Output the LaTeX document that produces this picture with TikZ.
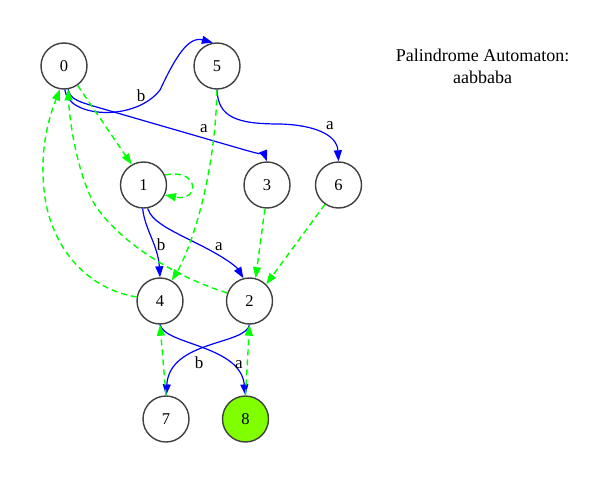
\documentclass[tikz,border=0pt]{standalone}
\usepackage{fontspec}
\setmainfont{Liberation Serif}
\usetikzlibrary{arrows.meta}
\definecolor{gvgreen}{RGB}{0,255,0}
\definecolor{gvblue}{RGB}{0,0,255}
\definecolor{gvgray}{RGB}{64,64,64}
\definecolor{gvchart}{RGB}{127,255,0}
\begin{document}
\begin{tikzpicture}[x=1pt,y=-1pt,
  state/.style={circle,draw=gvgray,line width=1.4pt,minimum size=46pt,inner sep=0pt,fill=white,font=\fontsize{16.5}{18}\selectfont},
  trans/.style={draw=gvblue,line width=1.2pt,-{Triangle[length=11pt,width=8pt]}},
  sufl/.style={draw=gvgreen,line width=1.4pt,dash pattern=on 6pt off 4pt,-{Triangle[length=11pt,width=8pt]}},
  elabel/.style={anchor=base,inner sep=0pt,font=\fontsize{17}{19}\selectfont},
  ttl/.style={anchor=base,inner sep=0pt,font=\fontsize{18}{20}\selectfont}]
\useasboundingbox (0,0) rectangle (607,481);
% nodes
\node[state] (n0) at (64,66) {0};
\node[state] (n5) at (217,66) {5};
\node[state] (n1) at (143.5,185) {1};
\node[state] (n3) at (267,185) {3};
\node[state] (n6) at (338.5,185) {6};
\node[state] (n4) at (160,301) {4};
\node[state] (n2) at (249.5,301) {2};
\node[state] (n7) at (166,419) {7};
\node[state,fill=gvchart] (n8) at (245.5,419) {8};
% title
\node[ttl] (t1) at (482.5,61.7) {Palindrome Automaton:};
\node[ttl] (t2) at (482.5,83.3) {aabbaba};
% transitions
\draw[trans] (n0.-88) .. controls (68,118) and (135,122) .. (160,90)
   .. controls (175,58) and (188,36) .. (n5.100);
\draw[trans] (n0.-80) .. controls (70,100) and (80,102) .. (100,108)
   -- (245,150) .. controls (256,153) and (265,156) .. (n3.north);
\draw[trans] (n5.south) .. controls (218,118) and (238,124) .. (280,124)
   .. controls (315,125) and (337,135) .. (n6.north);
\draw[trans] (n1.-92) .. controls (145,230) and (158,245) .. (n4.north);
\draw[trans] (n1.-80) .. controls (152,222) and (170,230) .. (200,245)
   .. controls (222,256) and (236,266) .. (n2.105);
\draw[trans] (n4.south) .. controls (165,345) and (240,345) .. (n8.north);
\draw[trans] (n2.south) .. controls (246,345) and (170,340) .. (n7.north);
% labels
\node[elabel] (lb05) at (141,102) {b};
\node[elabel] (la03) at (204,133) {a};
\node[elabel] (la56) at (330,130) {a};
\node[elabel] (lb14) at (161,250) {b};
\node[elabel] (la12) at (219,250) {a};
\node[elabel] (lb27) at (199,368) {b};
\node[elabel] (la48) at (239,368) {a};
% suffix links
\draw[sufl] (n0.-55) -- (n1.120);
\draw[sufl] (n1.25) .. controls (200,168) and (200,202) .. (n1.-25);
\draw[sufl] (n5.south) .. controls (215,180) and (190,250) .. (n4.60);
\draw[sufl] (n3.-95) -- (n2.75);
\draw[sufl] (n6.235) -- (n2.45);
\draw[sufl] (n4.170) .. controls (90,290) and (50,250) .. (44,190)
   .. controls (40,150) and (48,120) .. (n0.-100);
\draw[sufl] (n2.160) .. controls (190,282) and (125,250) .. (95,205)
   .. controls (80,180) and (70,130) .. (n0.-80);
\draw[sufl] (n7.north) -- (n4.south);
\draw[sufl] (n8.north) -- (n2.south);
\end{tikzpicture}
\end{document}
